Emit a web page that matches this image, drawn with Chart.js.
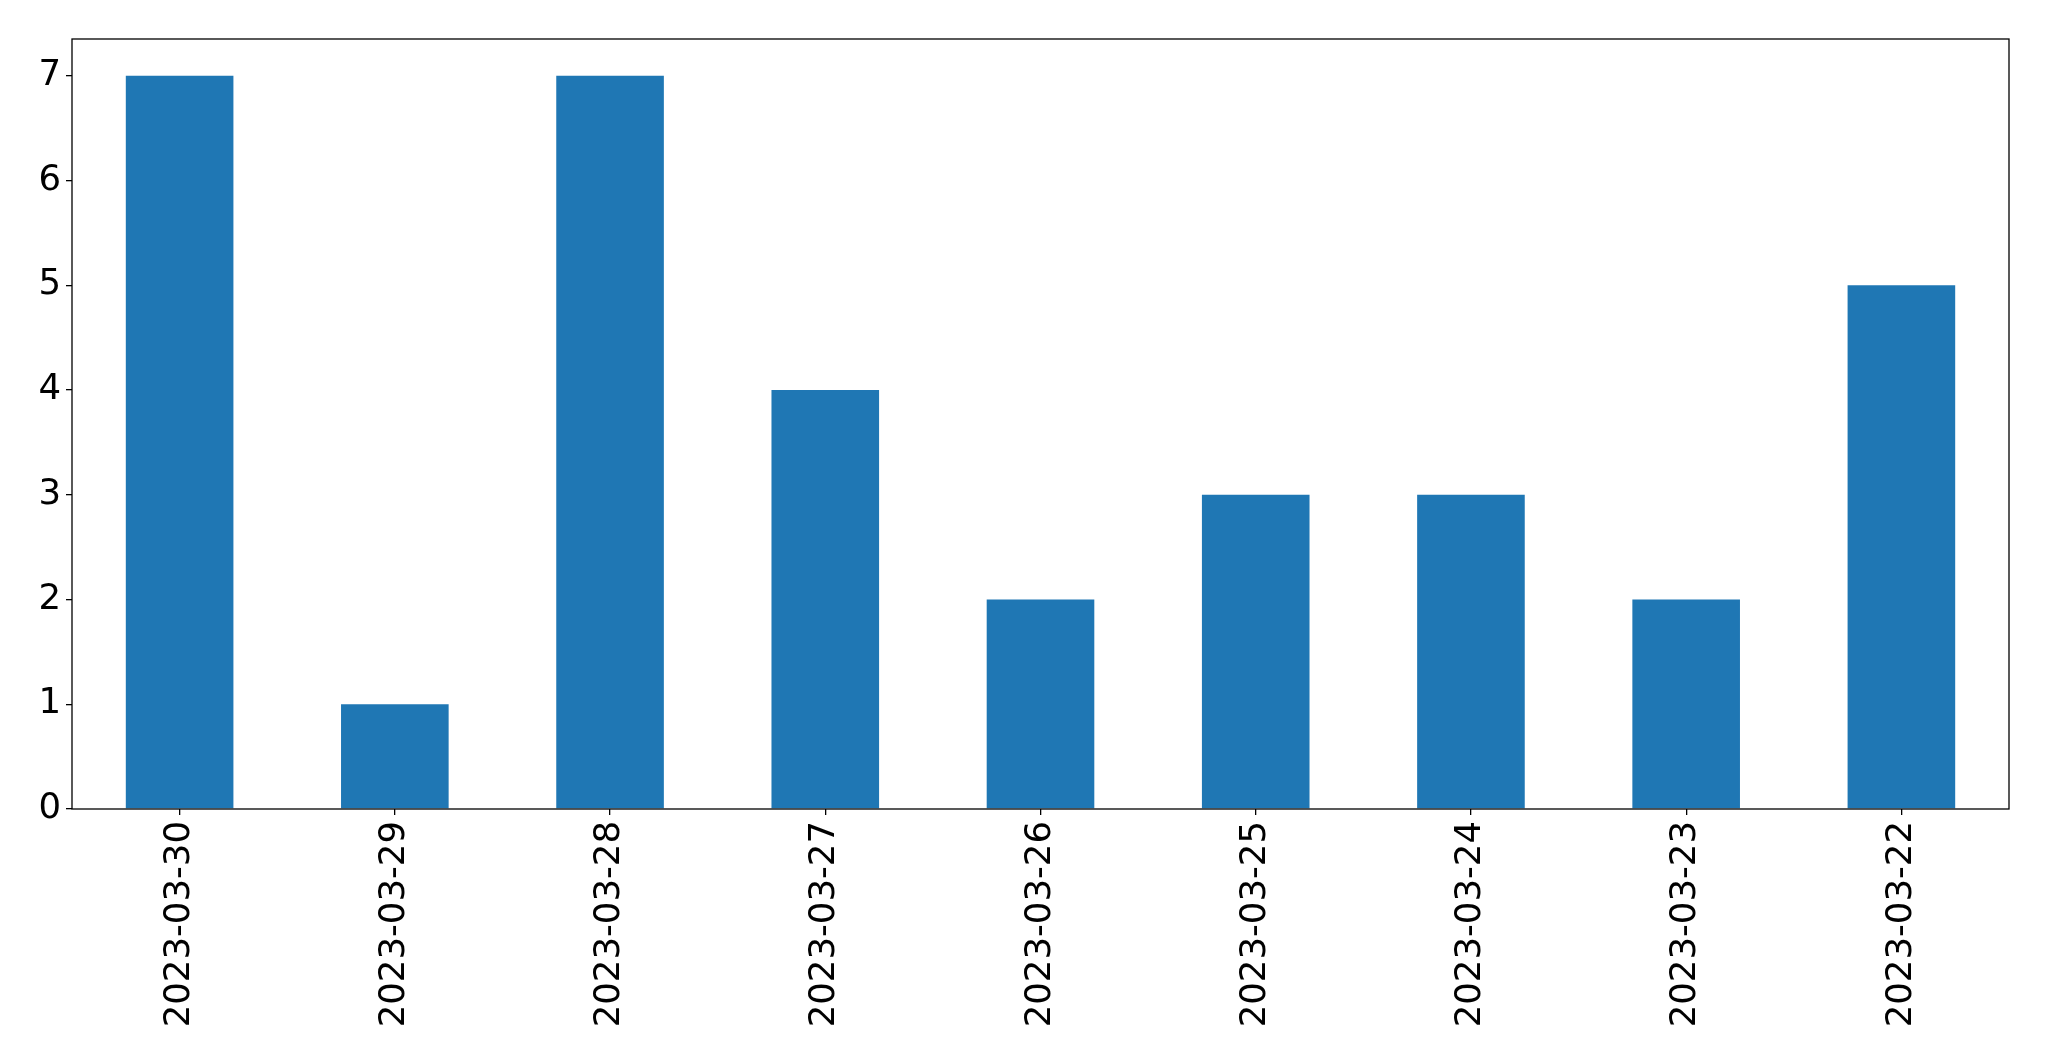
<!DOCTYPE html>
<html>
<head>
<meta charset="utf-8">
<script src="https://cdn.jsdelivr.net/npm/chart.js@4/dist/chart.umd.min.js"></script>
<style>
  html, body { margin: 0; padding: 0; background: #fff; }
  #wrap { width: 2049px; height: 1061px; }
</style>
</head>
<body>
<div id="wrap"><canvas id="chart" width="2049" height="1061"></canvas></div>
<script>
// data
const dates = ['2023-03-30', '2023-03-29', '2023-03-28', '2023-03-27', '2023-03-26',
               '2023-03-25', '2023-03-24', '2023-03-23', '2023-03-22'];
const counts = [7, 1, 7, 4, 2, 3, 3, 2, 5];
const yTicks = [0, 1, 2, 3, 4, 5, 6, 7];

// box around the plot area, like matplotlib's spines
const frameBox = {
    id: 'frameBox',
    afterDraw(chart) {
        const a = chart.chartArea;
        const ctx = chart.ctx;
        ctx.save();
        ctx.strokeStyle = '#000';
        ctx.lineWidth = 1.3;
        ctx.strokeRect(a.left, a.top, a.right - a.left, a.bottom - a.top);
        ctx.restore();
    }
};

const ctx = document.getElementById('chart').getContext('2d');
const chart = new Chart(ctx, {
    type: 'bar',
    data: {
        labels: dates,
        datasets: [{
            data: counts,
            backgroundColor: '#1f77b4',
            borderWidth: 0,
            categoryPercentage: 1.0,
            barPercentage: 0.5
        }]
    },
    options: {
        responsive: false,
        animation: false,
        layout: { padding: { top: 39, right: 40, left: 0, bottom: 0 } },
        plugins: {
            legend: { display: false },
            tooltip: { enabled: false }
        },
        scales: {
            x: {
                grid: { display: true, offset: false, drawOnChartArea: false, drawTicks: true, tickLength: 6, color: '#000', lineWidth: 1.3 },
                border: { display: false },
                ticks: {
                    color: '#000',
                    font: { family: 'DejaVu Sans', size: 35.5 },
                    minRotation: 90,
                    maxRotation: 90,
                    padding: 6,
                    autoSkip: false
                },
                afterFit(scale) { scale.height = 252; }
            },
            y: {
                min: 0,
                max: 7.35,
                afterBuildTicks(scale) { scale.ticks = yTicks.map(v => ({ value: v })); },
                grid: { display: true, drawOnChartArea: false, drawTicks: true, tickLength: 6, color: '#000', lineWidth: 1.3 },
                border: { display: false },
                ticks: {
                    color: '#000',
                    font: { family: 'DejaVu Sans', size: 35.5 },
                    padding: 5
                },
                afterFit(scale) { scale.width = 72; }
            }
        }
    },
    plugins: [frameBox]
});
</script>
</body>
</html>
